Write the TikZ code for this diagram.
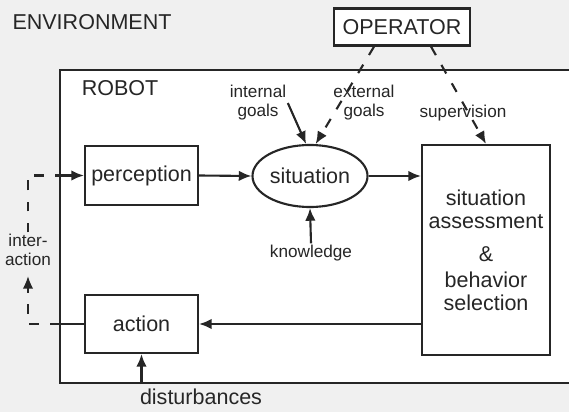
\documentclass[tikz,border=0pt]{standalone}
\usepackage{fontspec}
\setmainfont{Liberation Sans}
\usetikzlibrary{arrows.meta,shapes.geometric}
\definecolor{ENInk}{HTML}{262626}
\definecolor{ENBack}{HTML}{F0F0F0}

\tikzset{
  blockbox/.style={draw=ENInk,line width=1.5pt,fill=white,text=ENInk,
    align=center,font=\fontsize{15.3}{16.4}\selectfont},
  bigtext/.style={text=ENInk,font=\fontsize{15.3}{18}\selectfont},
  smalltext/.style={text=ENInk,inner sep=1pt,align=center,
    font=\fontsize{12.2}{13.6}\selectfont},
  flow/.style={draw=ENInk,line width=1.5pt,-{Latex[length=9pt,width=7.5pt]}},
  dashflow/.style={flow,dash pattern=on 7pt off 8pt},
}

\begin{document}
\begin{tikzpicture}[x=0.025cm,y=-0.025cm]
\path[use as bounding box] (0,0) rectangle (569,412);
\fill[ENBack] (0,0) rectangle (569,412);
% robot frame, open to the right
\fill[white] (60,70) rectangle (569,383);
\draw[ENInk,line width=1.5pt] (569,70) -- (60,70) -- (60,383) -- (569,383);
\coordinate (rleft) at (60,70);
\coordinate (loopbot) at (28,324);
\coordinate (looptop) at (28,175.5);

\node[bigtext] (env) at (92,22) {ENVIRONMENT};
\node[bigtext] (robot) at (120,88) {ROBOT};
\node[blockbox,minimum width=3.4cm,minimum height=0.925cm] (operator) at (402,27) {OPERATOR};

\node[blockbox,minimum width=2.825cm,minimum height=1.475cm] (perception) at (141.5,175.5) {perception};
\node[blockbox,ellipse,minimum width=2.875cm,minimum height=1.55cm,inner sep=0pt] (situation) at (310,176) {situation};
\node[blockbox,minimum width=3.2cm,minimum height=5.25cm] (assess) at (486,250)
  {situation\\assessment\\[7pt]\&\\[2pt]behavior\\selection};
\node[blockbox,minimum width=2.825cm,minimum height=1.45cm] (action) at (141.5,324) {action};

\node[smalltext] (intgoals) at (258,103) {internal\\goals};
\node[smalltext] (extgoals) at (364,103) {external\\goals};
\node[smalltext] (supervision) at (463,113) {supervision};
\node[smalltext] (knowledge) at (311,253) {knowledge};
\node[smalltext] (interact) at (28,250) {inter-\\action};
\node[bigtext] (disturb) at (201,397) {disturbances};

% main flow
\draw[flow] (perception.east) -- (situation.west);
\draw[flow] (situation.east) -- (situation.east -| assess.west);
\draw[flow] (assess.west |- action.east) -- (action.east);
\draw[flow] (knowledge.north) -- (situation.south);
\draw[flow] (intgoals.east) -- (situation.97);
\draw[dashflow] (operator.-145) -- (situation.80);
\draw[dashflow] (operator.-34) -- (assess.north);
\draw[flow] (disturb.north -| action.south) -- (action.south);

% interaction loop through the environment
\draw[ENInk,line width=1.5pt] (action.west) -- (action.west -| rleft);
\draw[dashflow,shorten >=6pt] (action.west -| rleft) -- (loopbot) -- (interact.south);
\draw[dashflow,-] (interact.north) -- (looptop) -- (looptop -| rleft);
\draw[flow] (looptop -| rleft) -- (perception.west);
\end{tikzpicture}
\end{document}
